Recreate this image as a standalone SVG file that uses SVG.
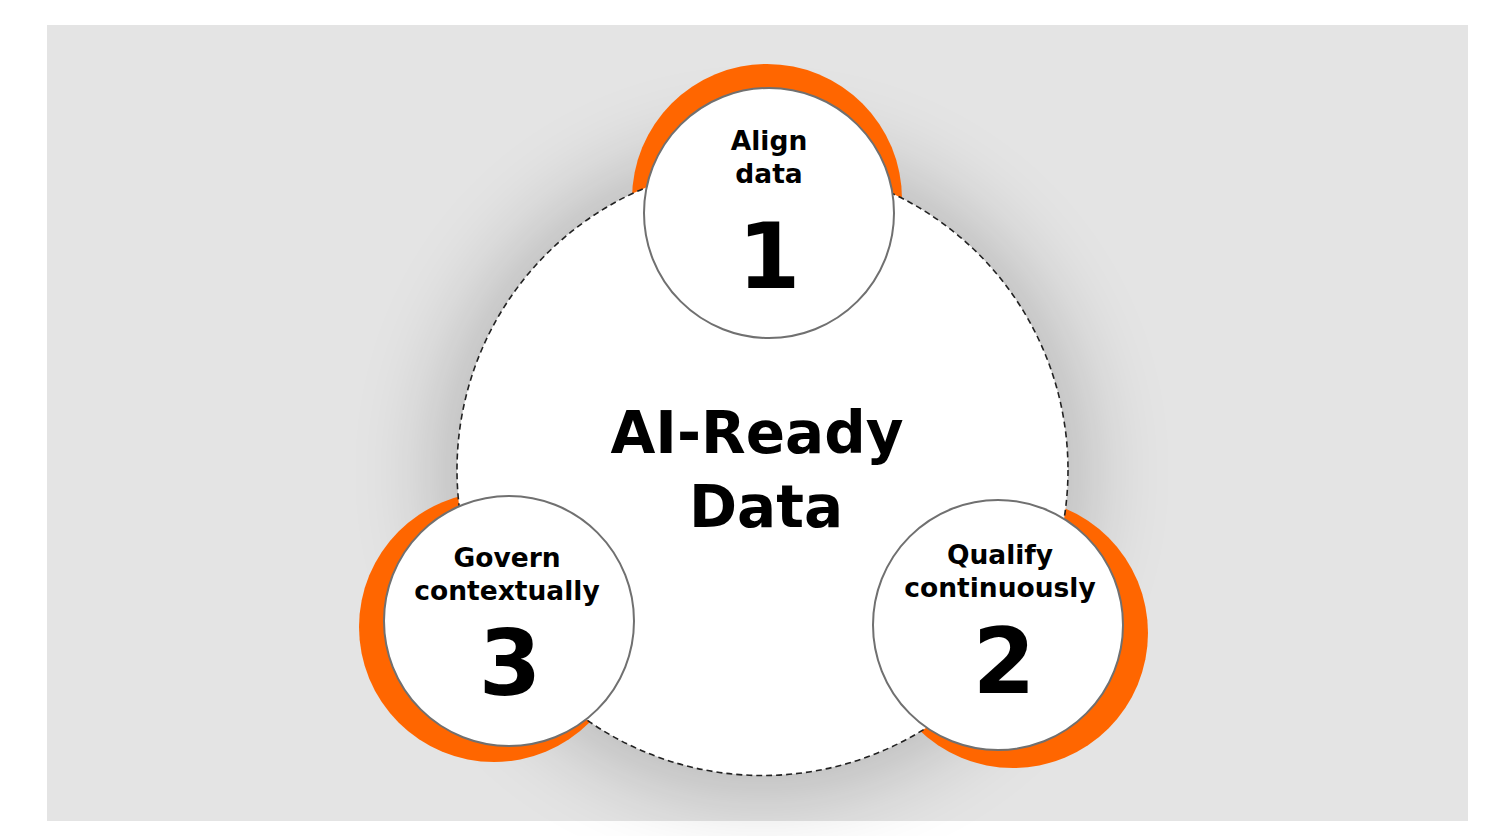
<svg xmlns="http://www.w3.org/2000/svg" width="1488" height="836" viewBox="0 0 1488 836">
<defs>
<filter id="sh" x="-50%" y="-50%" width="200%" height="200%">
<feGaussianBlur stdDeviation="45"/>
</filter>
<style>
.orange{fill:#ff6600;}
.node{fill:#ffffff;stroke:#707070;stroke-width:2;}
.lbl{font-family:"DejaVu Sans",sans-serif;font-weight:bold;font-size:26.5px;fill:#000;text-anchor:middle;}
.num{font-family:"DejaVu Sans",sans-serif;font-weight:bold;font-size:90px;fill:#000;text-anchor:middle;}
.title{font-family:"DejaVu Sans",sans-serif;font-weight:bold;font-size:58px;fill:#000;text-anchor:middle;}
</style>
</defs>
<rect x="0" y="0" width="1488" height="836" fill="#ffffff"/>
<rect x="47" y="25" width="1421" height="796" fill="#e4e4e4"/>
<circle cx="762" cy="472" r="322" fill="#000" opacity="0.2" filter="url(#sh)"/>
<g id="arcs">
<circle class="orange" cx="767" cy="199" r="135"/>
<circle class="orange" cx="494" cy="627" r="135"/>
<circle class="orange" cx="1013" cy="633" r="135"/>
</g>
<g id="center">
<circle cx="762.5" cy="470" r="305.5" fill="#ffffff" stroke="#222" stroke-width="1.6" stroke-dasharray="6 4"/>
<text class="title" x="757" y="453">AI-Ready</text>
<text class="title" x="766" y="527">Data</text>
</g>
<g id="node1">
<circle class="node" cx="769" cy="213" r="125"/>
<text class="lbl" x="769" y="150">Align</text>
<text class="lbl" x="769" y="183">data</text>
<text class="num" x="769" y="288">1</text>
</g>
<g id="node2">
<circle class="node" cx="998" cy="625" r="125"/>
<text class="lbl" x="1000" y="564">Qualify</text>
<text class="lbl" x="1000" y="597">continuously</text>
<text class="num" x="1004" y="693">2</text>
</g>
<g id="node3">
<circle class="node" cx="509" cy="621" r="125"/>
<text class="lbl" x="507" y="567">Govern</text>
<text class="lbl" x="507" y="600">contextually</text>
<text class="num" x="510" y="695">3</text>
</g>
</svg>
